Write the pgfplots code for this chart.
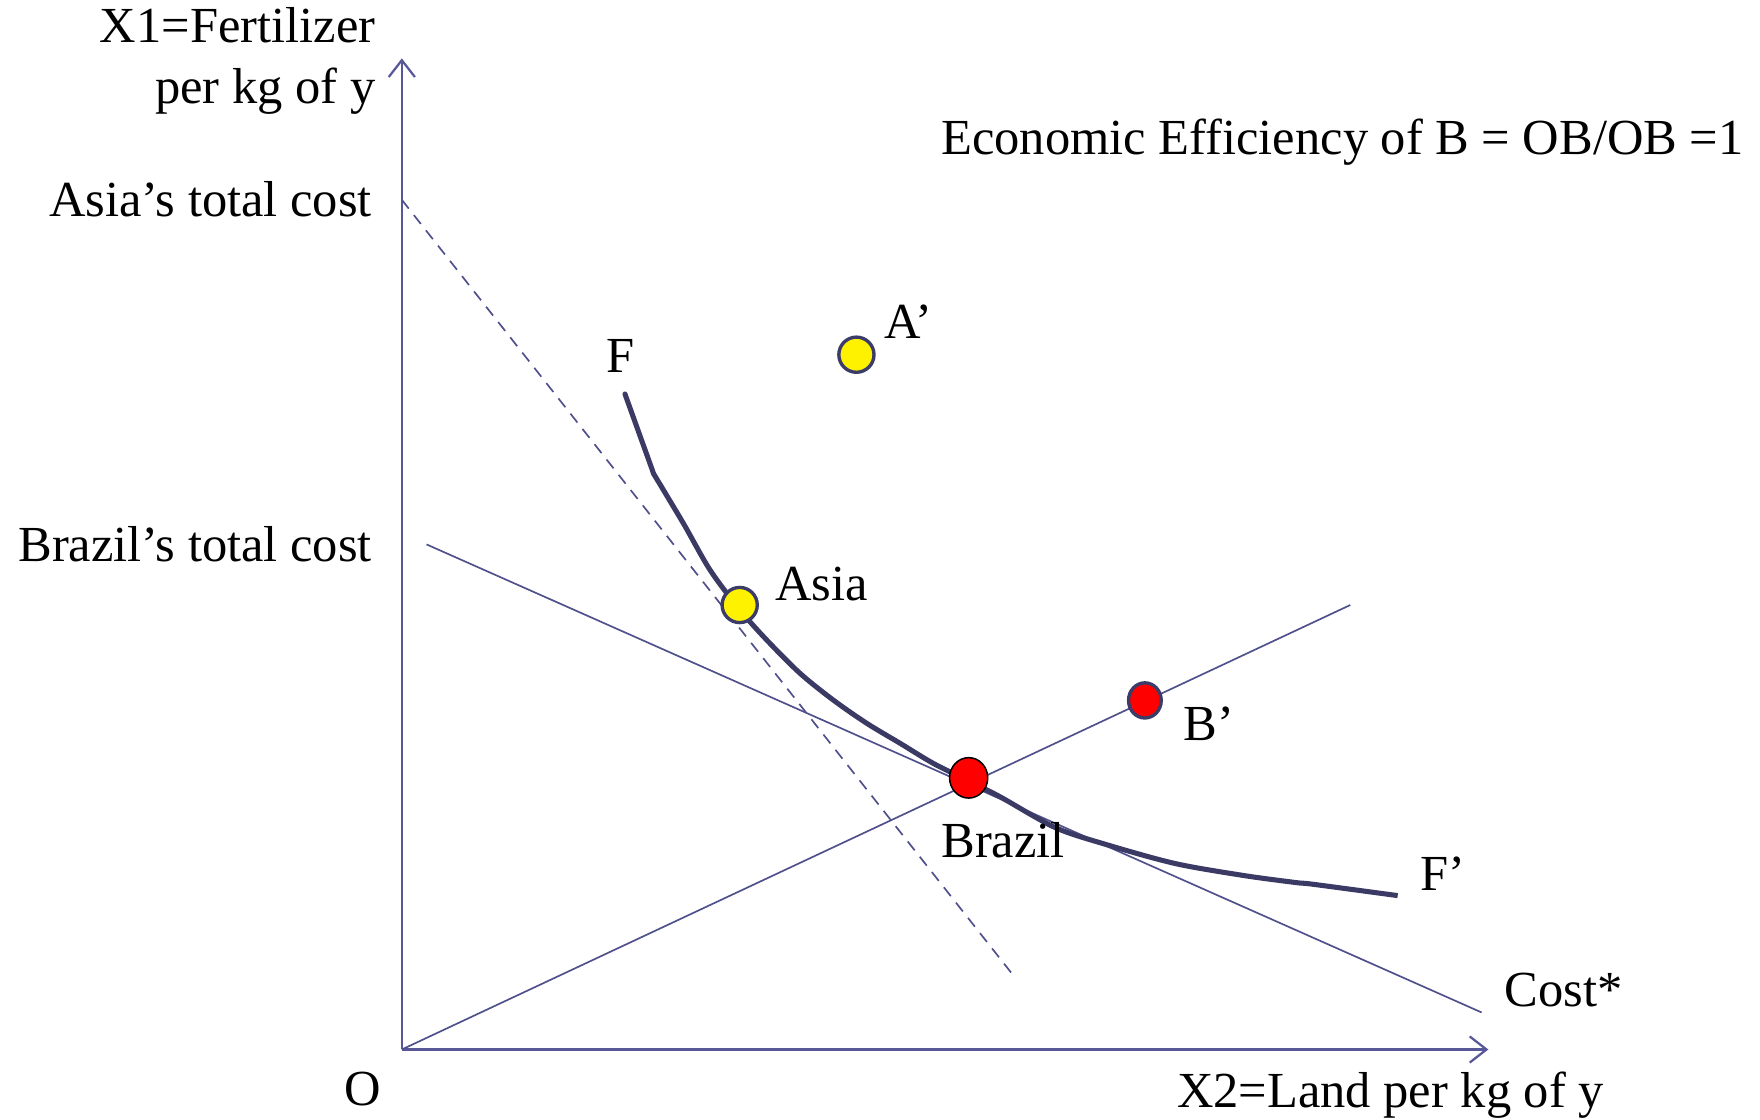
\documentclass[border=0pt]{standalone}
\usepackage{fontspec}
\setmainfont{Liberation Serif}
\usepackage{pgfplots}
\pgfplotsset{compat=1.18}
\usetikzlibrary{arrows.meta}
\definecolor{axiscol}{RGB}{88,88,152}
\definecolor{linecol}{RGB}{80,80,140}
\definecolor{curvecol}{RGB}{58,58,100}
\definecolor{bordercol}{RGB}{60,60,105}
\tikzset{lab/.style={font=\fontsize{13.5}{16}\selectfont, inner sep=0pt, text=black}}
\begin{document}
\begin{tikzpicture}
\begin{axis}[
  x=0.3pt, y=0.3pt,
  xmin=0, xmax=968, ymin=0, ymax=883,
  axis lines=left,
  xtick=\empty, ytick=\empty,
  axis line style={color=axiscol, line width=0.6pt, -{Straight Barb[length=4.5pt,width=7pt,line width=0.6pt]}},
  clip=false,
]
\coordinate (bbsw) at (axis cs:-358,-62);
\coordinate (bbne) at (axis cs:1210,935);

% points
\addplot[only marks, mark=*, mark size=4.7pt, mark options={fill=yellow, draw=bordercol, line width=0.9pt}]
  coordinates {(405,619) (301,396)};
\addplot[only marks, mark=*, mark size=4.7pt, mark options={fill=red, draw=bordercol, line width=0.9pt, xscale=0.93}]
  coordinates {(662,311)};
\addplot[only marks, mark=*, mark size=5.1pt, mark options={fill=red, draw=none, yscale=1.06}]
  coordinates {(505,242)};

% Asia's cost line (dashed)
\addplot[linecol, line width=0.45pt, dash pattern=on 3pt off 2.2pt] coordinates {(0,757) (544,67)};
% Cost* line
\addplot[linecol, line width=0.45pt] coordinates {(22,450) (962,33)};
% ray from origin
\addplot[linecol, line width=0.45pt] coordinates {(0,0) (845,396)};

% isoquant F-F'
\addplot[curvecol, line width=1.35pt, line cap=round, line join=round] coordinates {
  (198.8,584) (222.6,517.8) (224.1,513.3)};
\addplot[curvecol, line width=1.35pt, line cap=butt, line join=round, smooth, tension=0.5] coordinates {
  (224.1,513.3) (250.8,468.8) (274.6,427.2) (301.3,391.5) (325.1,364.8)
  (354.8,335.1) (384.4,311.3) (414.2,290.6) (443.9,272.8) (473.5,254.9)
  (503.3,240.1) (532.9,225.2) (581.9,197.8) (627.9,182.5) (689.3,165.6)
  (750.7,154.9) (796.7,148.7) (811.8,147.2) (887.2,137.1)};

% labels
\node[lab, anchor=base east] at (axis cs:-23,897) {X1=Fertilizer};
\node[lab, anchor=base east] at (axis cs:-23,843) {per kg of y};
\node[lab, anchor=base east] at (axis cs:-26,742) {Asia’s total cost};
\node[lab, anchor=base east] at (axis cs:-26,435) {Brazil’s total cost};
\node[lab, anchor=base west] at (axis cs:480,797) {Economic Efficiency of B = OB/OB =1};
\node[lab, anchor=base] at (axis cs:-35,-50) {O};
\node[lab, anchor=base west] at (axis cs:690,-52) {X2=Land per kg of y};
\node[lab, anchor=base west] at (axis cs:182,603) {F};
\node[lab, anchor=base west] at (axis cs:429,633) {A’};
\node[lab, anchor=base west] at (axis cs:332,400) {Asia};
\node[lab, anchor=base west] at (axis cs:696,275) {B’};
\node[lab, anchor=base west] at (axis cs:480,171) {Brazil};
\node[lab, anchor=base west] at (axis cs:907,142) {F’};
\node[lab, anchor=base west] at (axis cs:982,38) {Cost*};
\end{axis}
\pgfresetboundingbox
\path[use as bounding box] (bbsw) rectangle (bbne);
\end{tikzpicture}
\end{document}
